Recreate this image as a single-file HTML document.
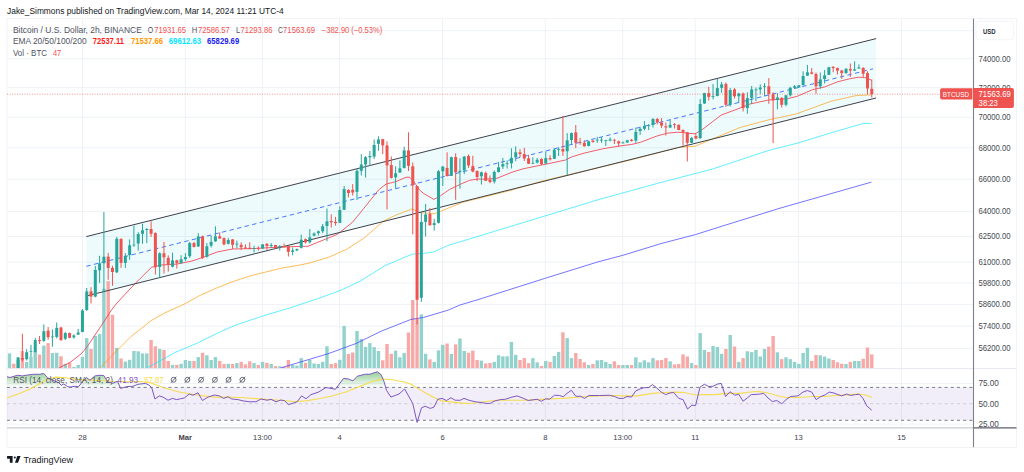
<!DOCTYPE html><html><head><meta charset="utf-8"><style>html,body{margin:0;padding:0;background:#fff;overflow:hidden}svg{display:block}text{font-family:"Liberation Sans",sans-serif}</style></head><body>
<svg width="1024" height="472" viewBox="0 0 1024 472">
<rect width="1024" height="472" fill="#fff"/>
<defs><clipPath id="mp"><rect x="7" y="19" width="966.5" height="349.4"/></clipPath><clipPath id="rp"><rect x="7" y="369" width="966.5" height="58.3"/></clipPath><linearGradient id="ob" gradientUnits="userSpaceOnUse" x1="0" y1="362.8" x2="0" y2="387.4"><stop offset="0" stop-color="#4caf50" stop-opacity="0.95"/><stop offset="1" stop-color="#4caf50" stop-opacity="0"/></linearGradient></defs>
<text x="7.1" y="13.9" font-size="8.9" fill="#131722" font-weight="normal" text-anchor="start" textLength="276.6" lengthAdjust="spacingAndGlyphs">Jake_Simmons published on TradingView.com, Mar 14, 2024 11:21 UTC-4</text>
<rect x="7" y="18.5" width="1009.5" height="429" fill="none" stroke="#eef0f4" stroke-width="0.8"/>
<g clip-path="url(#mp)">
<line x1="7" x2="973.5" y1="30.7" y2="30.7" stroke="#eef2f7" stroke-width="1"/>
<line x1="7" x2="973.5" y1="58.77" y2="58.77" stroke="#eef2f7" stroke-width="1"/>
<line x1="7" x2="973.5" y1="87.61" y2="87.61" stroke="#eef2f7" stroke-width="1"/>
<line x1="7" x2="973.5" y1="117.27" y2="117.27" stroke="#eef2f7" stroke-width="1"/>
<line x1="7" x2="973.5" y1="147.78" y2="147.78" stroke="#eef2f7" stroke-width="1"/>
<line x1="7" x2="973.5" y1="179.2" y2="179.2" stroke="#eef2f7" stroke-width="1"/>
<line x1="7" x2="973.5" y1="211.59" y2="211.59" stroke="#eef2f7" stroke-width="1"/>
<line x1="7" x2="973.5" y1="236.56" y2="236.56" stroke="#eef2f7" stroke-width="1"/>
<line x1="7" x2="973.5" y1="262.13" y2="262.13" stroke="#eef2f7" stroke-width="1"/>
<line x1="7" x2="973.5" y1="283.04" y2="283.04" stroke="#eef2f7" stroke-width="1"/>
<line x1="7" x2="973.5" y1="304.38" y2="304.38" stroke="#eef2f7" stroke-width="1"/>
<line x1="7" x2="973.5" y1="326.16" y2="326.16" stroke="#eef2f7" stroke-width="1"/>
<line x1="7" x2="973.5" y1="348.4" y2="348.4" stroke="#eef2f7" stroke-width="1"/>
<line x1="82.5" x2="82.5" y1="18.5" y2="368.4" stroke="#eef2f7" stroke-width="1"/>
<line x1="185.25" x2="185.25" y1="18.5" y2="368.4" stroke="#eef2f7" stroke-width="1"/>
<line x1="262.5" x2="262.5" y1="18.5" y2="368.4" stroke="#eef2f7" stroke-width="1"/>
<line x1="339.5" x2="339.5" y1="18.5" y2="368.4" stroke="#eef2f7" stroke-width="1"/>
<line x1="442.5" x2="442.5" y1="18.5" y2="368.4" stroke="#eef2f7" stroke-width="1"/>
<line x1="545.25" x2="545.25" y1="18.5" y2="368.4" stroke="#eef2f7" stroke-width="1"/>
<line x1="622.75" x2="622.75" y1="18.5" y2="368.4" stroke="#eef2f7" stroke-width="1"/>
<line x1="695.25" x2="695.25" y1="18.5" y2="368.4" stroke="#eef2f7" stroke-width="1"/>
<line x1="798.5" x2="798.5" y1="18.5" y2="368.4" stroke="#eef2f7" stroke-width="1"/>
<line x1="901.5" x2="901.5" y1="18.5" y2="368.4" stroke="#eef2f7" stroke-width="1"/>
<polygon points="86.3,236.6 876.1,38.6 876.1,98 86.3,296" fill="#00c4cc" fill-opacity="0.066"/>
<rect x="7.82" y="353.4" width="3.4" height="15" fill="#92d2cc"/>
<rect x="12.11" y="363.7" width="3.4" height="4.7" fill="#f7a9a7"/>
<rect x="16.4" y="360" width="3.4" height="8.4" fill="#92d2cc"/>
<rect x="20.69" y="351.1" width="3.4" height="17.3" fill="#f7a9a7"/>
<rect x="24.98" y="361.9" width="3.4" height="6.5" fill="#92d2cc"/>
<rect x="29.27" y="356.7" width="3.4" height="11.7" fill="#92d2cc"/>
<rect x="33.56" y="352" width="3.4" height="16.4" fill="#92d2cc"/>
<rect x="37.85" y="354.5" width="3.4" height="13.9" fill="#f7a9a7"/>
<rect x="42.14" y="345.6" width="3.4" height="22.8" fill="#92d2cc"/>
<rect x="46.43" y="343.1" width="3.4" height="25.3" fill="#f7a9a7"/>
<rect x="50.72" y="353.1" width="3.4" height="15.3" fill="#92d2cc"/>
<rect x="55.01" y="352.8" width="3.4" height="15.6" fill="#92d2cc"/>
<rect x="59.3" y="356.2" width="3.4" height="12.2" fill="#f7a9a7"/>
<rect x="63.59" y="363.8" width="3.4" height="4.6" fill="#92d2cc"/>
<rect x="67.88" y="362.8" width="3.4" height="5.6" fill="#f7a9a7"/>
<rect x="72.17" y="366.9" width="3.4" height="1.5" fill="#92d2cc"/>
<rect x="76.46" y="365" width="3.4" height="3.4" fill="#92d2cc"/>
<rect x="80.75" y="356.9" width="3.4" height="11.5" fill="#92d2cc"/>
<rect x="85.04" y="338.1" width="3.4" height="30.3" fill="#92d2cc"/>
<rect x="89.33" y="349" width="3.4" height="19.4" fill="#f7a9a7"/>
<rect x="93.62" y="336" width="3.4" height="32.4" fill="#92d2cc"/>
<rect x="97.91" y="334.1" width="3.4" height="34.3" fill="#92d2cc"/>
<rect x="102.2" y="288.8" width="3.4" height="79.6" fill="#92d2cc"/>
<rect x="106.49" y="281.2" width="3.4" height="87.2" fill="#f7a9a7"/>
<rect x="110.78" y="314.8" width="3.4" height="53.6" fill="#f7a9a7"/>
<rect x="115.07" y="347.9" width="3.4" height="20.5" fill="#92d2cc"/>
<rect x="119.36" y="358.5" width="3.4" height="9.9" fill="#f7a9a7"/>
<rect x="123.65" y="361.6" width="3.4" height="6.8" fill="#92d2cc"/>
<rect x="127.94" y="359.8" width="3.4" height="8.6" fill="#92d2cc"/>
<rect x="132.23" y="351" width="3.4" height="17.4" fill="#92d2cc"/>
<rect x="136.52" y="351.3" width="3.4" height="17.1" fill="#92d2cc"/>
<rect x="140.81" y="353.4" width="3.4" height="15" fill="#92d2cc"/>
<rect x="145.1" y="353.4" width="3.4" height="15" fill="#92d2cc"/>
<rect x="149.39" y="340" width="3.4" height="28.4" fill="#f7a9a7"/>
<rect x="153.68" y="346.3" width="3.4" height="22.1" fill="#f7a9a7"/>
<rect x="157.97" y="349" width="3.4" height="19.4" fill="#92d2cc"/>
<rect x="162.26" y="350" width="3.4" height="18.4" fill="#f7a9a7"/>
<rect x="166.55" y="361" width="3.4" height="7.4" fill="#f7a9a7"/>
<rect x="170.84" y="364.8" width="3.4" height="3.6" fill="#92d2cc"/>
<rect x="175.13" y="364.8" width="3.4" height="3.6" fill="#f7a9a7"/>
<rect x="179.42" y="363.8" width="3.4" height="4.6" fill="#92d2cc"/>
<rect x="183.71" y="360" width="3.4" height="8.4" fill="#92d2cc"/>
<rect x="188" y="361" width="3.4" height="7.4" fill="#92d2cc"/>
<rect x="192.28" y="361" width="3.4" height="7.4" fill="#f7a9a7"/>
<rect x="196.57" y="357.1" width="3.4" height="11.3" fill="#92d2cc"/>
<rect x="200.86" y="352.8" width="3.4" height="15.6" fill="#f7a9a7"/>
<rect x="205.15" y="355.3" width="3.4" height="13.1" fill="#92d2cc"/>
<rect x="209.44" y="360" width="3.4" height="8.4" fill="#92d2cc"/>
<rect x="213.73" y="357.1" width="3.4" height="11.3" fill="#92d2cc"/>
<rect x="218.02" y="361" width="3.4" height="7.4" fill="#f7a9a7"/>
<rect x="222.31" y="364" width="3.4" height="4.4" fill="#f7a9a7"/>
<rect x="226.6" y="363.8" width="3.4" height="4.6" fill="#92d2cc"/>
<rect x="230.89" y="364" width="3.4" height="4.4" fill="#f7a9a7"/>
<rect x="235.18" y="363.1" width="3.4" height="5.3" fill="#92d2cc"/>
<rect x="239.47" y="361.9" width="3.4" height="6.5" fill="#f7a9a7"/>
<rect x="243.76" y="364.4" width="3.4" height="4" fill="#f7a9a7"/>
<rect x="248.05" y="361.3" width="3.4" height="7.1" fill="#f7a9a7"/>
<rect x="252.34" y="363.1" width="3.4" height="5.3" fill="#92d2cc"/>
<rect x="256.63" y="365" width="3.4" height="3.4" fill="#f7a9a7"/>
<rect x="260.92" y="361.9" width="3.4" height="6.5" fill="#92d2cc"/>
<rect x="265.21" y="362.8" width="3.4" height="5.6" fill="#f7a9a7"/>
<rect x="269.5" y="364" width="3.4" height="4.4" fill="#92d2cc"/>
<rect x="273.79" y="366" width="3.4" height="2.4" fill="#f7a9a7"/>
<rect x="278.08" y="366.3" width="3.4" height="2.1" fill="#92d2cc"/>
<rect x="282.37" y="366.9" width="3.4" height="1.5" fill="#f7a9a7"/>
<rect x="286.66" y="360" width="3.4" height="8.4" fill="#f7a9a7"/>
<rect x="290.95" y="365" width="3.4" height="3.4" fill="#92d2cc"/>
<rect x="295.24" y="365.6" width="3.4" height="2.8" fill="#92d2cc"/>
<rect x="299.53" y="358.1" width="3.4" height="10.3" fill="#92d2cc"/>
<rect x="303.82" y="362.8" width="3.4" height="5.6" fill="#f7a9a7"/>
<rect x="308.11" y="360" width="3.4" height="8.4" fill="#92d2cc"/>
<rect x="312.4" y="363.5" width="3.4" height="4.9" fill="#92d2cc"/>
<rect x="316.69" y="364" width="3.4" height="4.4" fill="#92d2cc"/>
<rect x="320.98" y="361.9" width="3.4" height="6.5" fill="#92d2cc"/>
<rect x="325.27" y="346.3" width="3.4" height="22.1" fill="#92d2cc"/>
<rect x="329.56" y="364" width="3.4" height="4.4" fill="#f7a9a7"/>
<rect x="333.85" y="363.1" width="3.4" height="5.3" fill="#f7a9a7"/>
<rect x="338.14" y="359.8" width="3.4" height="8.6" fill="#92d2cc"/>
<rect x="342.43" y="326" width="3.4" height="42.4" fill="#92d2cc"/>
<rect x="346.72" y="354" width="3.4" height="14.4" fill="#f7a9a7"/>
<rect x="351.01" y="352.5" width="3.4" height="15.9" fill="#f7a9a7"/>
<rect x="355.3" y="331" width="3.4" height="37.4" fill="#92d2cc"/>
<rect x="359.59" y="339" width="3.4" height="29.4" fill="#92d2cc"/>
<rect x="363.88" y="346.9" width="3.4" height="21.5" fill="#92d2cc"/>
<rect x="368.17" y="343.1" width="3.4" height="25.3" fill="#92d2cc"/>
<rect x="372.46" y="347.1" width="3.4" height="21.3" fill="#92d2cc"/>
<rect x="376.75" y="351" width="3.4" height="17.4" fill="#92d2cc"/>
<rect x="381.04" y="360.3" width="3.4" height="8.1" fill="#f7a9a7"/>
<rect x="385.33" y="344" width="3.4" height="24.4" fill="#f7a9a7"/>
<rect x="389.62" y="353.8" width="3.4" height="14.6" fill="#f7a9a7"/>
<rect x="393.91" y="350.6" width="3.4" height="17.8" fill="#92d2cc"/>
<rect x="398.2" y="357.3" width="3.4" height="11.1" fill="#92d2cc"/>
<rect x="402.48" y="353.1" width="3.4" height="15.3" fill="#92d2cc"/>
<rect x="406.77" y="332.5" width="3.4" height="35.9" fill="#f7a9a7"/>
<rect x="411.06" y="300" width="3.4" height="68.4" fill="#f7a9a7"/>
<rect x="415.35" y="318.8" width="3.4" height="49.6" fill="#f7a9a7"/>
<rect x="419.64" y="314.4" width="3.4" height="54" fill="#92d2cc"/>
<rect x="423.93" y="353.8" width="3.4" height="14.6" fill="#92d2cc"/>
<rect x="428.22" y="359.4" width="3.4" height="9" fill="#f7a9a7"/>
<rect x="432.51" y="361.9" width="3.4" height="6.5" fill="#92d2cc"/>
<rect x="436.8" y="350.3" width="3.4" height="18.1" fill="#92d2cc"/>
<rect x="441.09" y="344.8" width="3.4" height="23.6" fill="#92d2cc"/>
<rect x="445.38" y="343.5" width="3.4" height="24.9" fill="#f7a9a7"/>
<rect x="449.67" y="354" width="3.4" height="14.4" fill="#92d2cc"/>
<rect x="453.96" y="344.4" width="3.4" height="24" fill="#f7a9a7"/>
<rect x="458.25" y="338.5" width="3.4" height="29.9" fill="#92d2cc"/>
<rect x="462.54" y="351" width="3.4" height="17.4" fill="#92d2cc"/>
<rect x="466.83" y="352.8" width="3.4" height="15.6" fill="#f7a9a7"/>
<rect x="471.12" y="350.6" width="3.4" height="17.8" fill="#f7a9a7"/>
<rect x="475.41" y="360" width="3.4" height="8.4" fill="#f7a9a7"/>
<rect x="479.7" y="360.6" width="3.4" height="7.8" fill="#92d2cc"/>
<rect x="483.99" y="363.5" width="3.4" height="4.9" fill="#f7a9a7"/>
<rect x="488.28" y="362.9" width="3.4" height="5.5" fill="#f7a9a7"/>
<rect x="492.57" y="361.9" width="3.4" height="6.5" fill="#92d2cc"/>
<rect x="496.86" y="355.3" width="3.4" height="13.1" fill="#92d2cc"/>
<rect x="501.15" y="356.3" width="3.4" height="12.1" fill="#92d2cc"/>
<rect x="505.44" y="356.3" width="3.4" height="12.1" fill="#92d2cc"/>
<rect x="509.73" y="341.9" width="3.4" height="26.5" fill="#92d2cc"/>
<rect x="514.02" y="354.8" width="3.4" height="13.6" fill="#92d2cc"/>
<rect x="518.31" y="360" width="3.4" height="8.4" fill="#f7a9a7"/>
<rect x="522.6" y="358.1" width="3.4" height="10.3" fill="#f7a9a7"/>
<rect x="526.89" y="363.1" width="3.4" height="5.3" fill="#f7a9a7"/>
<rect x="531.18" y="358.1" width="3.4" height="10.3" fill="#92d2cc"/>
<rect x="535.47" y="362.3" width="3.4" height="6.1" fill="#92d2cc"/>
<rect x="539.76" y="366" width="3.4" height="2.4" fill="#f7a9a7"/>
<rect x="544.05" y="361" width="3.4" height="7.4" fill="#92d2cc"/>
<rect x="548.34" y="361.9" width="3.4" height="6.5" fill="#f7a9a7"/>
<rect x="552.63" y="356" width="3.4" height="12.4" fill="#92d2cc"/>
<rect x="556.92" y="351.9" width="3.4" height="16.5" fill="#92d2cc"/>
<rect x="561.21" y="332.3" width="3.4" height="36.1" fill="#f7a9a7"/>
<rect x="565.5" y="338.1" width="3.4" height="30.3" fill="#92d2cc"/>
<rect x="569.79" y="358.1" width="3.4" height="10.3" fill="#92d2cc"/>
<rect x="574.08" y="353.1" width="3.4" height="15.3" fill="#f7a9a7"/>
<rect x="578.37" y="359" width="3.4" height="9.4" fill="#f7a9a7"/>
<rect x="582.66" y="362.3" width="3.4" height="6.1" fill="#f7a9a7"/>
<rect x="586.95" y="365" width="3.4" height="3.4" fill="#92d2cc"/>
<rect x="591.24" y="364" width="3.4" height="4.4" fill="#f7a9a7"/>
<rect x="595.53" y="360.3" width="3.4" height="8.1" fill="#92d2cc"/>
<rect x="599.82" y="360" width="3.4" height="8.4" fill="#92d2cc"/>
<rect x="604.11" y="361.9" width="3.4" height="6.5" fill="#92d2cc"/>
<rect x="608.4" y="364" width="3.4" height="4.4" fill="#92d2cc"/>
<rect x="612.69" y="361.3" width="3.4" height="7.1" fill="#f7a9a7"/>
<rect x="616.97" y="365" width="3.4" height="3.4" fill="#f7a9a7"/>
<rect x="621.26" y="365" width="3.4" height="3.4" fill="#92d2cc"/>
<rect x="625.55" y="365" width="3.4" height="3.4" fill="#92d2cc"/>
<rect x="629.84" y="365" width="3.4" height="3.4" fill="#f7a9a7"/>
<rect x="634.13" y="357.3" width="3.4" height="11.1" fill="#92d2cc"/>
<rect x="638.42" y="362.3" width="3.4" height="6.1" fill="#92d2cc"/>
<rect x="642.71" y="360.3" width="3.4" height="8.1" fill="#92d2cc"/>
<rect x="647" y="362.3" width="3.4" height="6.1" fill="#92d2cc"/>
<rect x="651.29" y="358.1" width="3.4" height="10.3" fill="#92d2cc"/>
<rect x="655.58" y="360.3" width="3.4" height="8.1" fill="#f7a9a7"/>
<rect x="659.87" y="360" width="3.4" height="8.4" fill="#f7a9a7"/>
<rect x="664.16" y="358.1" width="3.4" height="10.3" fill="#f7a9a7"/>
<rect x="668.45" y="361.3" width="3.4" height="7.1" fill="#92d2cc"/>
<rect x="672.74" y="364.4" width="3.4" height="4" fill="#f7a9a7"/>
<rect x="677.03" y="364" width="3.4" height="4.4" fill="#f7a9a7"/>
<rect x="681.32" y="354.4" width="3.4" height="14" fill="#f7a9a7"/>
<rect x="685.61" y="356.5" width="3.4" height="11.9" fill="#f7a9a7"/>
<rect x="689.9" y="363.1" width="3.4" height="5.3" fill="#92d2cc"/>
<rect x="694.19" y="365" width="3.4" height="3.4" fill="#f7a9a7"/>
<rect x="698.48" y="333.1" width="3.4" height="35.3" fill="#92d2cc"/>
<rect x="702.77" y="350" width="3.4" height="18.4" fill="#92d2cc"/>
<rect x="707.06" y="351.9" width="3.4" height="16.5" fill="#f7a9a7"/>
<rect x="711.35" y="346" width="3.4" height="22.4" fill="#92d2cc"/>
<rect x="715.64" y="347" width="3.4" height="21.4" fill="#92d2cc"/>
<rect x="719.93" y="353.8" width="3.4" height="14.6" fill="#92d2cc"/>
<rect x="724.22" y="349" width="3.4" height="19.4" fill="#f7a9a7"/>
<rect x="728.51" y="335" width="3.4" height="33.4" fill="#92d2cc"/>
<rect x="732.8" y="346.5" width="3.4" height="21.9" fill="#f7a9a7"/>
<rect x="737.09" y="361.9" width="3.4" height="6.5" fill="#92d2cc"/>
<rect x="741.38" y="358.1" width="3.4" height="10.3" fill="#f7a9a7"/>
<rect x="745.67" y="351.3" width="3.4" height="17.1" fill="#92d2cc"/>
<rect x="749.96" y="352.1" width="3.4" height="16.3" fill="#92d2cc"/>
<rect x="754.25" y="350" width="3.4" height="18.4" fill="#92d2cc"/>
<rect x="758.54" y="356.5" width="3.4" height="11.9" fill="#92d2cc"/>
<rect x="762.83" y="349" width="3.4" height="19.4" fill="#92d2cc"/>
<rect x="767.12" y="346.6" width="3.4" height="21.8" fill="#f7a9a7"/>
<rect x="771.41" y="336" width="3.4" height="32.4" fill="#f7a9a7"/>
<rect x="775.7" y="352.3" width="3.4" height="16.1" fill="#92d2cc"/>
<rect x="779.99" y="359.1" width="3.4" height="9.3" fill="#f7a9a7"/>
<rect x="784.28" y="357.3" width="3.4" height="11.1" fill="#92d2cc"/>
<rect x="788.57" y="359.1" width="3.4" height="9.3" fill="#92d2cc"/>
<rect x="792.86" y="361.9" width="3.4" height="6.5" fill="#92d2cc"/>
<rect x="797.15" y="363.8" width="3.4" height="4.6" fill="#92d2cc"/>
<rect x="801.44" y="352.9" width="3.4" height="15.5" fill="#92d2cc"/>
<rect x="805.73" y="347.8" width="3.4" height="20.6" fill="#92d2cc"/>
<rect x="810.02" y="361" width="3.4" height="7.4" fill="#f7a9a7"/>
<rect x="814.31" y="355" width="3.4" height="13.4" fill="#f7a9a7"/>
<rect x="818.6" y="355.3" width="3.4" height="13.1" fill="#92d2cc"/>
<rect x="822.89" y="356.5" width="3.4" height="11.9" fill="#92d2cc"/>
<rect x="827.18" y="358.5" width="3.4" height="9.9" fill="#92d2cc"/>
<rect x="831.46" y="360" width="3.4" height="8.4" fill="#f7a9a7"/>
<rect x="835.75" y="362.3" width="3.4" height="6.1" fill="#f7a9a7"/>
<rect x="840.04" y="363.8" width="3.4" height="4.6" fill="#f7a9a7"/>
<rect x="844.33" y="364" width="3.4" height="4.4" fill="#92d2cc"/>
<rect x="848.62" y="361.9" width="3.4" height="6.5" fill="#f7a9a7"/>
<rect x="852.91" y="361" width="3.4" height="7.4" fill="#92d2cc"/>
<rect x="857.2" y="361" width="3.4" height="7.4" fill="#92d2cc"/>
<rect x="861.49" y="358.8" width="3.4" height="9.6" fill="#f7a9a7"/>
<rect x="865.78" y="347.5" width="3.4" height="20.9" fill="#f7a9a7"/>
<rect x="870.07" y="354.4" width="3.4" height="14" fill="#f7a9a7"/>
<polyline points="280.5,368 328,353.75 356,343.5 381,331.25 411,319.4 423.5,317.5 436,313.75 448.5,310 460,305 480,299 544.5,278.5 597.2,262.1 623.6,255.1 661.7,243.4 695.4,234.6 723.2,225.8 780,208.2 871.5,182.1" fill="none" stroke="#3a3aff" stroke-width="1" stroke-opacity="0.7"/>
<polyline points="146.9,368 175,352.5 197.5,343 216.25,333.75 235,325.3 263.1,315.9 291.25,307.5 319.4,298.1 340,290.6 360,281.25 385,265.6 412.5,254 422.5,253.5 433.75,251.9 447.5,245.6 466,240 480,235.75 544.5,216.1 597.2,200 656,183.75 712.5,169 768,150.6 798,143 830.5,133 863,123.5 871.5,123.4" fill="none" stroke="#00e5ff" stroke-width="1" stroke-opacity="0.62"/>
<polyline points="100,368 115,352.5 131.25,336.25 140,329.5 151,320.7 163.5,313.6 185.5,303.5 199.6,295.6 215.2,288.6 230.9,282.3 249.7,276 265.4,272.1 281,268.2 300,265 310,262.9 328.75,257.25 347.25,249 364.75,237.5 383.5,221 396,215 411,209.4 412,208.75 419.5,212.5 434.5,213.75 440.75,211.25 462,202.5 512,190 540,181.6 580,172 630.5,160 640,157.5 677.5,147.5 695,146.25 710,140 740,127.5 768,120 796,114 831,101.25 856,95.6 871.5,94.8" fill="none" stroke="#ff9800" stroke-width="1" stroke-opacity="0.65"/>
<polyline points="58.75,368 70,362.5 81.25,353.75 87.5,346.25 95,335 102.5,323.75 111.5,310 116.5,303.5 134,284.75 151.5,267.25 161.5,265 176.5,264.1 192,261 202.5,257.5 217.5,251.9 232.5,249 255,248.5 282.5,246.9 308,246.25 337.25,234.4 352.25,222.5 363.5,208.75 378.5,190 386,184.1 396,181.6 406,177.25 409.75,177.25 413.5,181 419.5,190 424,193.75 433.9,199.4 440.75,195.6 449.5,189.5 462,183.5 469.5,180.4 477,179.1 487,179.1 497,178.25 512,172.25 522,169.1 528,167.75 546.75,164 565.5,160 571.75,156.9 584.25,153.1 603,148.75 618,146.25 631.75,144.4 640.5,142.3 656.25,136.25 667.5,133.1 677.5,132.25 682.5,132.5 690,133.5 695,133.75 702.5,129.4 721.25,115 740,108.1 750,104 768.5,100 787.25,98.75 797.25,96.25 812.25,89.75 824.75,86.9 837.25,81.9 849.75,78.75 858.5,77.25 864.75,77.5 871.5,80.2" fill="none" stroke="#f23645" stroke-width="1" stroke-opacity="0.8"/>
<line x1="86.3" y1="236.6" x2="876.1" y2="38.6" stroke="#3d414c" stroke-width="1"/>
<line x1="86.3" y1="296" x2="876.1" y2="98" stroke="#3d414c" stroke-width="1"/>
<line x1="86.3" y1="266.3" x2="873" y2="68.8" stroke="#2962ff" stroke-opacity="0.85" stroke-width="1" stroke-dasharray="4.4 3.37"/>
<line x1="18.1" x2="18.1" y1="357.4" y2="368.5" stroke="#26a69a" stroke-width="1"/>
<rect x="16.6" y="357.4" width="3" height="11.1" fill="#26a69a"/>
<line x1="22.39" x2="22.39" y1="333.8" y2="361.5" stroke="#ef5350" stroke-width="1"/>
<rect x="20.89" y="358" width="3" height="1.6" fill="#ef5350"/>
<line x1="26.68" x2="26.68" y1="349.2" y2="360.5" stroke="#26a69a" stroke-width="1"/>
<rect x="25.18" y="352.2" width="3" height="7" fill="#26a69a"/>
<line x1="30.97" x2="30.97" y1="344.8" y2="356.7" stroke="#26a69a" stroke-width="1"/>
<rect x="29.47" y="350.9" width="3" height="0.8" fill="#26a69a"/>
<line x1="35.26" x2="35.26" y1="337.8" y2="352.5" stroke="#26a69a" stroke-width="1"/>
<rect x="33.76" y="340.1" width="3" height="11.9" fill="#26a69a"/>
<line x1="39.55" x2="39.55" y1="336" y2="344" stroke="#ef5350" stroke-width="1"/>
<rect x="38.05" y="340" width="3" height="1.1" fill="#ef5350"/>
<line x1="43.84" x2="43.84" y1="324.4" y2="341.9" stroke="#26a69a" stroke-width="1"/>
<rect x="42.34" y="331.2" width="3" height="9.6" fill="#26a69a"/>
<line x1="48.13" x2="48.13" y1="327" y2="339.7" stroke="#ef5350" stroke-width="1"/>
<rect x="46.63" y="330.6" width="3" height="6.6" fill="#ef5350"/>
<line x1="52.42" x2="52.42" y1="329.4" y2="346.8" stroke="#26a69a" stroke-width="1"/>
<rect x="50.92" y="336.5" width="3" height="0.8" fill="#26a69a"/>
<line x1="56.71" x2="56.71" y1="322.5" y2="338.4" stroke="#26a69a" stroke-width="1"/>
<rect x="55.21" y="327.9" width="3" height="9" fill="#26a69a"/>
<line x1="61" x2="61" y1="326.9" y2="340.6" stroke="#ef5350" stroke-width="1"/>
<rect x="59.5" y="327.5" width="3" height="12.7" fill="#ef5350"/>
<line x1="65.29" x2="65.29" y1="331.9" y2="340" stroke="#26a69a" stroke-width="1"/>
<rect x="63.79" y="333.1" width="3" height="5.7" fill="#26a69a"/>
<line x1="69.58" x2="69.58" y1="332.5" y2="338.2" stroke="#ef5350" stroke-width="1"/>
<rect x="68.08" y="333.1" width="3" height="4.7" fill="#ef5350"/>
<line x1="73.87" x2="73.87" y1="334.4" y2="338.8" stroke="#26a69a" stroke-width="1"/>
<rect x="72.37" y="335.4" width="3" height="1.9" fill="#26a69a"/>
<line x1="78.16" x2="78.16" y1="328.8" y2="335" stroke="#26a69a" stroke-width="1"/>
<rect x="76.66" y="332.5" width="3" height="2.1" fill="#26a69a"/>
<line x1="82.45" x2="82.45" y1="309" y2="332.3" stroke="#26a69a" stroke-width="1"/>
<rect x="80.95" y="310.5" width="3" height="21.4" fill="#26a69a"/>
<line x1="86.74" x2="86.74" y1="288" y2="311" stroke="#26a69a" stroke-width="1"/>
<rect x="85.24" y="291.4" width="3" height="18.6" fill="#26a69a"/>
<line x1="91.03" x2="91.03" y1="287.3" y2="303.5" stroke="#ef5350" stroke-width="1"/>
<rect x="89.53" y="291.3" width="3" height="5.3" fill="#ef5350"/>
<line x1="95.32" x2="95.32" y1="266" y2="297.3" stroke="#26a69a" stroke-width="1"/>
<rect x="93.82" y="270" width="3" height="26.6" fill="#26a69a"/>
<line x1="99.61" x2="99.61" y1="255.8" y2="282.9" stroke="#26a69a" stroke-width="1"/>
<rect x="98.11" y="263.3" width="3" height="7.1" fill="#26a69a"/>
<line x1="103.9" x2="103.9" y1="211.9" y2="292" stroke="#26a69a" stroke-width="1"/>
<rect x="102.4" y="256.7" width="3" height="6.6" fill="#26a69a"/>
<line x1="108.19" x2="108.19" y1="252.9" y2="279.8" stroke="#ef5350" stroke-width="1"/>
<rect x="106.69" y="256.6" width="3" height="11.3" fill="#ef5350"/>
<line x1="112.48" x2="112.48" y1="265.8" y2="285.8" stroke="#ef5350" stroke-width="1"/>
<rect x="110.98" y="267.9" width="3" height="4.1" fill="#ef5350"/>
<line x1="116.77" x2="116.77" y1="236.9" y2="273" stroke="#26a69a" stroke-width="1"/>
<rect x="115.27" y="238.8" width="3" height="33.5" fill="#26a69a"/>
<line x1="121.06" x2="121.06" y1="238.5" y2="267.9" stroke="#ef5350" stroke-width="1"/>
<rect x="119.56" y="238.8" width="3" height="24.1" fill="#ef5350"/>
<line x1="125.35" x2="125.35" y1="253.1" y2="267.9" stroke="#26a69a" stroke-width="1"/>
<rect x="123.85" y="255.8" width="3" height="7.1" fill="#26a69a"/>
<line x1="129.64" x2="129.64" y1="239.4" y2="259.8" stroke="#26a69a" stroke-width="1"/>
<rect x="128.14" y="245.3" width="3" height="9.7" fill="#26a69a"/>
<line x1="133.93" x2="133.93" y1="225.6" y2="246.9" stroke="#26a69a" stroke-width="1"/>
<rect x="132.43" y="244.6" width="3" height="0.8" fill="#26a69a"/>
<line x1="138.22" x2="138.22" y1="232.3" y2="250.6" stroke="#26a69a" stroke-width="1"/>
<rect x="136.72" y="234" width="3" height="9.5" fill="#26a69a"/>
<line x1="142.51" x2="142.51" y1="223.8" y2="243.8" stroke="#26a69a" stroke-width="1"/>
<rect x="141.01" y="230.3" width="3" height="3.5" fill="#26a69a"/>
<line x1="146.8" x2="146.8" y1="228.1" y2="243.1" stroke="#26a69a" stroke-width="1"/>
<rect x="145.3" y="229" width="3" height="1" fill="#26a69a"/>
<line x1="151.09" x2="151.09" y1="221.3" y2="236.9" stroke="#ef5350" stroke-width="1"/>
<rect x="149.59" y="229" width="3" height="4.8" fill="#ef5350"/>
<line x1="155.38" x2="155.38" y1="232.3" y2="274.5" stroke="#ef5350" stroke-width="1"/>
<rect x="153.88" y="233.1" width="3" height="34.2" fill="#ef5350"/>
<line x1="159.67" x2="159.67" y1="252.3" y2="277.9" stroke="#26a69a" stroke-width="1"/>
<rect x="158.17" y="253.3" width="3" height="13.7" fill="#26a69a"/>
<line x1="163.96" x2="163.96" y1="241.9" y2="273.5" stroke="#ef5350" stroke-width="1"/>
<rect x="162.46" y="253.3" width="3" height="4" fill="#ef5350"/>
<line x1="168.25" x2="168.25" y1="255.4" y2="271.6" stroke="#ef5350" stroke-width="1"/>
<rect x="166.75" y="257.9" width="3" height="7.1" fill="#ef5350"/>
<line x1="172.54" x2="172.54" y1="252.7" y2="267.3" stroke="#26a69a" stroke-width="1"/>
<rect x="171.04" y="260.4" width="3" height="6.2" fill="#26a69a"/>
<line x1="176.83" x2="176.83" y1="259.8" y2="268.5" stroke="#ef5350" stroke-width="1"/>
<rect x="175.33" y="260.4" width="3" height="2.5" fill="#ef5350"/>
<line x1="181.12" x2="181.12" y1="255.2" y2="263.5" stroke="#26a69a" stroke-width="1"/>
<rect x="179.62" y="259.3" width="3" height="3.9" fill="#26a69a"/>
<line x1="185.41" x2="185.41" y1="253.2" y2="261.1" stroke="#26a69a" stroke-width="1"/>
<rect x="183.91" y="257" width="3" height="2.2" fill="#26a69a"/>
<line x1="189.69" x2="189.69" y1="241.9" y2="257.8" stroke="#26a69a" stroke-width="1"/>
<rect x="188.19" y="243.1" width="3" height="13.1" fill="#26a69a"/>
<line x1="193.98" x2="193.98" y1="241.9" y2="247.5" stroke="#ef5350" stroke-width="1"/>
<rect x="192.48" y="243.1" width="3" height="3.8" fill="#ef5350"/>
<line x1="198.27" x2="198.27" y1="233.1" y2="246.9" stroke="#26a69a" stroke-width="1"/>
<rect x="196.77" y="236.5" width="3" height="10" fill="#26a69a"/>
<line x1="202.56" x2="202.56" y1="235.6" y2="258.8" stroke="#ef5350" stroke-width="1"/>
<rect x="201.06" y="236.3" width="3" height="21.8" fill="#ef5350"/>
<line x1="206.85" x2="206.85" y1="243.1" y2="257.5" stroke="#26a69a" stroke-width="1"/>
<rect x="205.35" y="246.3" width="3" height="10.6" fill="#26a69a"/>
<line x1="211.14" x2="211.14" y1="235.6" y2="247.5" stroke="#26a69a" stroke-width="1"/>
<rect x="209.64" y="241.9" width="3" height="3.7" fill="#26a69a"/>
<line x1="215.43" x2="215.43" y1="226.3" y2="241.9" stroke="#26a69a" stroke-width="1"/>
<rect x="213.93" y="236.3" width="3" height="5" fill="#26a69a"/>
<line x1="219.72" x2="219.72" y1="232.3" y2="239" stroke="#ef5350" stroke-width="1"/>
<rect x="218.22" y="236.3" width="3" height="2.2" fill="#ef5350"/>
<line x1="224.01" x2="224.01" y1="237.5" y2="245.3" stroke="#ef5350" stroke-width="1"/>
<rect x="222.51" y="238.1" width="3" height="6.3" fill="#ef5350"/>
<line x1="228.3" x2="228.3" y1="238.1" y2="244.4" stroke="#26a69a" stroke-width="1"/>
<rect x="226.8" y="240" width="3" height="3.8" fill="#26a69a"/>
<line x1="232.59" x2="232.59" y1="239" y2="249" stroke="#ef5350" stroke-width="1"/>
<rect x="231.09" y="239.4" width="3" height="5.4" fill="#ef5350"/>
<line x1="236.88" x2="236.88" y1="240.6" y2="248.1" stroke="#26a69a" stroke-width="1"/>
<rect x="235.38" y="243.7" width="3" height="0.8" fill="#26a69a"/>
<line x1="241.17" x2="241.17" y1="242.3" y2="250" stroke="#ef5350" stroke-width="1"/>
<rect x="239.67" y="244.8" width="3" height="2.5" fill="#ef5350"/>
<line x1="245.46" x2="245.46" y1="244.4" y2="248.8" stroke="#ef5350" stroke-width="1"/>
<rect x="243.96" y="247.5" width="3" height="1" fill="#ef5350"/>
<line x1="249.75" x2="249.75" y1="242.3" y2="249.4" stroke="#ef5350" stroke-width="1"/>
<rect x="248.25" y="247.8" width="3" height="1.2" fill="#ef5350"/>
<line x1="254.04" x2="254.04" y1="245.6" y2="252.5" stroke="#26a69a" stroke-width="1"/>
<rect x="252.54" y="248.2" width="3" height="0.8" fill="#26a69a"/>
<line x1="258.33" x2="258.33" y1="246.3" y2="250.6" stroke="#ef5350" stroke-width="1"/>
<rect x="256.83" y="247.8" width="3" height="0.8" fill="#ef5350"/>
<line x1="262.62" x2="262.62" y1="244" y2="249" stroke="#26a69a" stroke-width="1"/>
<rect x="261.12" y="244.4" width="3" height="4.1" fill="#26a69a"/>
<line x1="266.91" x2="266.91" y1="243.1" y2="249.8" stroke="#ef5350" stroke-width="1"/>
<rect x="265.41" y="243.8" width="3" height="2.2" fill="#ef5350"/>
<line x1="271.2" x2="271.2" y1="243.1" y2="248.1" stroke="#26a69a" stroke-width="1"/>
<rect x="269.7" y="245" width="3" height="1" fill="#26a69a"/>
<line x1="275.49" x2="275.49" y1="244.8" y2="248.4" stroke="#ef5350" stroke-width="1"/>
<rect x="273.99" y="245" width="3" height="3.1" fill="#ef5350"/>
<line x1="279.78" x2="279.78" y1="245" y2="250.6" stroke="#26a69a" stroke-width="1"/>
<rect x="278.28" y="246.3" width="3" height="1" fill="#26a69a"/>
<line x1="284.07" x2="284.07" y1="243.5" y2="247.5" stroke="#ef5350" stroke-width="1"/>
<rect x="282.57" y="246" width="3" height="1.3" fill="#ef5350"/>
<line x1="288.36" x2="288.36" y1="246.3" y2="256.5" stroke="#ef5350" stroke-width="1"/>
<rect x="286.86" y="246.5" width="3" height="5.4" fill="#ef5350"/>
<line x1="292.65" x2="292.65" y1="247.5" y2="255.3" stroke="#26a69a" stroke-width="1"/>
<rect x="291.15" y="250.3" width="3" height="1.6" fill="#26a69a"/>
<line x1="296.94" x2="296.94" y1="248.5" y2="251.3" stroke="#26a69a" stroke-width="1"/>
<rect x="295.44" y="249" width="3" height="1.3" fill="#26a69a"/>
<line x1="301.23" x2="301.23" y1="234.6" y2="248.5" stroke="#26a69a" stroke-width="1"/>
<rect x="299.73" y="239.8" width="3" height="8" fill="#26a69a"/>
<line x1="305.52" x2="305.52" y1="238.5" y2="243.5" stroke="#ef5350" stroke-width="1"/>
<rect x="304.02" y="239.2" width="3" height="3.1" fill="#ef5350"/>
<line x1="309.81" x2="309.81" y1="229" y2="243.5" stroke="#26a69a" stroke-width="1"/>
<rect x="308.31" y="237.3" width="3" height="5" fill="#26a69a"/>
<line x1="314.1" x2="314.1" y1="232.5" y2="236.3" stroke="#26a69a" stroke-width="1"/>
<rect x="312.6" y="233.5" width="3" height="2.1" fill="#26a69a"/>
<line x1="318.39" x2="318.39" y1="230.6" y2="235.6" stroke="#26a69a" stroke-width="1"/>
<rect x="316.89" y="231.3" width="3" height="1.8" fill="#26a69a"/>
<line x1="322.68" x2="322.68" y1="224" y2="233.1" stroke="#26a69a" stroke-width="1"/>
<rect x="321.18" y="226.3" width="3" height="5" fill="#26a69a"/>
<line x1="326.97" x2="326.97" y1="208.5" y2="241.3" stroke="#26a69a" stroke-width="1"/>
<rect x="325.47" y="221.3" width="3" height="4.7" fill="#26a69a"/>
<line x1="331.26" x2="331.26" y1="214.4" y2="227.5" stroke="#ef5350" stroke-width="1"/>
<rect x="329.76" y="221" width="3" height="1.3" fill="#ef5350"/>
<line x1="335.55" x2="335.55" y1="216.9" y2="225.6" stroke="#ef5350" stroke-width="1"/>
<rect x="334.05" y="221.9" width="3" height="1.2" fill="#ef5350"/>
<line x1="339.84" x2="339.84" y1="206.3" y2="223.1" stroke="#26a69a" stroke-width="1"/>
<rect x="338.34" y="210" width="3" height="12.8" fill="#26a69a"/>
<line x1="344.13" x2="344.13" y1="186" y2="210" stroke="#26a69a" stroke-width="1"/>
<rect x="342.63" y="189.1" width="3" height="20.7" fill="#26a69a"/>
<line x1="348.42" x2="348.42" y1="189.1" y2="197.5" stroke="#ef5350" stroke-width="1"/>
<rect x="346.92" y="190" width="3" height="3" fill="#ef5350"/>
<line x1="352.71" x2="352.71" y1="184.1" y2="195.6" stroke="#ef5350" stroke-width="1"/>
<rect x="351.21" y="189.8" width="3" height="2.7" fill="#ef5350"/>
<line x1="357" x2="357" y1="168.5" y2="200" stroke="#26a69a" stroke-width="1"/>
<rect x="355.5" y="170.8" width="3" height="21.1" fill="#26a69a"/>
<line x1="361.29" x2="361.29" y1="154.1" y2="175.4" stroke="#26a69a" stroke-width="1"/>
<rect x="359.79" y="164.5" width="3" height="6.3" fill="#26a69a"/>
<line x1="365.58" x2="365.58" y1="156" y2="177.5" stroke="#26a69a" stroke-width="1"/>
<rect x="364.08" y="157.3" width="3" height="7.2" fill="#26a69a"/>
<line x1="369.87" x2="369.87" y1="151" y2="166" stroke="#26a69a" stroke-width="1"/>
<rect x="368.37" y="156" width="3" height="1.3" fill="#26a69a"/>
<line x1="374.16" x2="374.16" y1="139.5" y2="159.1" stroke="#26a69a" stroke-width="1"/>
<rect x="372.66" y="145" width="3" height="11.6" fill="#26a69a"/>
<line x1="378.45" x2="378.45" y1="136.3" y2="150.8" stroke="#26a69a" stroke-width="1"/>
<rect x="376.95" y="139.5" width="3" height="4.3" fill="#26a69a"/>
<line x1="382.74" x2="382.74" y1="139.1" y2="154.1" stroke="#ef5350" stroke-width="1"/>
<rect x="381.24" y="139.1" width="3" height="6.3" fill="#ef5350"/>
<line x1="387.03" x2="387.03" y1="141.3" y2="209.4" stroke="#ef5350" stroke-width="1"/>
<rect x="385.53" y="145.4" width="3" height="20" fill="#ef5350"/>
<line x1="391.32" x2="391.32" y1="156.6" y2="178.5" stroke="#ef5350" stroke-width="1"/>
<rect x="389.82" y="165" width="3" height="12.9" fill="#ef5350"/>
<line x1="395.61" x2="395.61" y1="166.3" y2="188.5" stroke="#26a69a" stroke-width="1"/>
<rect x="394.11" y="173.3" width="3" height="4" fill="#26a69a"/>
<line x1="399.9" x2="399.9" y1="160.4" y2="172.9" stroke="#26a69a" stroke-width="1"/>
<rect x="398.4" y="168.3" width="3" height="4.2" fill="#26a69a"/>
<line x1="404.18" x2="404.18" y1="146.6" y2="168.5" stroke="#26a69a" stroke-width="1"/>
<rect x="402.68" y="150.4" width="3" height="17.5" fill="#26a69a"/>
<line x1="408.47" x2="408.47" y1="132.3" y2="171" stroke="#ef5350" stroke-width="1"/>
<rect x="406.97" y="150.4" width="3" height="15.4" fill="#ef5350"/>
<line x1="412.76" x2="412.76" y1="162.5" y2="234.4" stroke="#ef5350" stroke-width="1"/>
<rect x="411.26" y="166.3" width="3" height="19.1" fill="#ef5350"/>
<line x1="417.05" x2="417.05" y1="186" y2="324.4" stroke="#ef5350" stroke-width="1"/>
<rect x="415.55" y="186" width="3" height="113.8" fill="#ef5350"/>
<line x1="421.34" x2="421.34" y1="211.9" y2="301.9" stroke="#26a69a" stroke-width="1"/>
<rect x="419.84" y="222" width="3" height="75.8" fill="#26a69a"/>
<line x1="425.63" x2="425.63" y1="204" y2="236.5" stroke="#26a69a" stroke-width="1"/>
<rect x="424.13" y="214.4" width="3" height="7.5" fill="#26a69a"/>
<line x1="429.92" x2="429.92" y1="208.1" y2="225.6" stroke="#ef5350" stroke-width="1"/>
<rect x="428.42" y="214" width="3" height="11.3" fill="#ef5350"/>
<line x1="434.21" x2="434.21" y1="218.8" y2="230.6" stroke="#26a69a" stroke-width="1"/>
<rect x="432.71" y="223.1" width="3" height="1.9" fill="#26a69a"/>
<line x1="438.5" x2="438.5" y1="170" y2="223.5" stroke="#26a69a" stroke-width="1"/>
<rect x="437" y="171.3" width="3" height="51.5" fill="#26a69a"/>
<line x1="442.79" x2="442.79" y1="166" y2="186" stroke="#26a69a" stroke-width="1"/>
<rect x="441.29" y="166.6" width="3" height="4.7" fill="#26a69a"/>
<line x1="447.08" x2="447.08" y1="152.3" y2="176.6" stroke="#ef5350" stroke-width="1"/>
<rect x="445.58" y="167.9" width="3" height="8.1" fill="#ef5350"/>
<line x1="451.37" x2="451.37" y1="156.6" y2="176" stroke="#26a69a" stroke-width="1"/>
<rect x="449.87" y="157.3" width="3" height="18.5" fill="#26a69a"/>
<line x1="455.66" x2="455.66" y1="153.3" y2="199.8" stroke="#ef5350" stroke-width="1"/>
<rect x="454.16" y="157" width="3" height="15.3" fill="#ef5350"/>
<line x1="459.95" x2="459.95" y1="158.3" y2="188.8" stroke="#26a69a" stroke-width="1"/>
<rect x="458.45" y="170.8" width="3" height="1.2" fill="#26a69a"/>
<line x1="464.24" x2="464.24" y1="156" y2="174.1" stroke="#26a69a" stroke-width="1"/>
<rect x="462.74" y="156.6" width="3" height="13.8" fill="#26a69a"/>
<line x1="468.53" x2="468.53" y1="154.5" y2="167.9" stroke="#ef5350" stroke-width="1"/>
<rect x="467.03" y="156" width="3" height="9.4" fill="#ef5350"/>
<line x1="472.82" x2="472.82" y1="155.8" y2="172.3" stroke="#ef5350" stroke-width="1"/>
<rect x="471.32" y="166" width="3" height="5.6" fill="#ef5350"/>
<line x1="477.11" x2="477.11" y1="170.4" y2="181" stroke="#ef5350" stroke-width="1"/>
<rect x="475.61" y="171" width="3" height="6" fill="#ef5350"/>
<line x1="481.4" x2="481.4" y1="171.6" y2="184.5" stroke="#26a69a" stroke-width="1"/>
<rect x="479.9" y="172.3" width="3" height="4" fill="#26a69a"/>
<line x1="485.69" x2="485.69" y1="171.6" y2="181" stroke="#ef5350" stroke-width="1"/>
<rect x="484.19" y="172.9" width="3" height="7.9" fill="#ef5350"/>
<line x1="489.98" x2="489.98" y1="175.4" y2="183.3" stroke="#ef5350" stroke-width="1"/>
<rect x="488.48" y="179.8" width="3" height="2.2" fill="#ef5350"/>
<line x1="494.27" x2="494.27" y1="170.4" y2="183.5" stroke="#26a69a" stroke-width="1"/>
<rect x="492.77" y="172" width="3" height="9.6" fill="#26a69a"/>
<line x1="498.56" x2="498.56" y1="162" y2="172.5" stroke="#26a69a" stroke-width="1"/>
<rect x="497.06" y="167.3" width="3" height="4.7" fill="#26a69a"/>
<line x1="502.85" x2="502.85" y1="157.9" y2="169.1" stroke="#26a69a" stroke-width="1"/>
<rect x="501.35" y="164.1" width="3" height="2.5" fill="#26a69a"/>
<line x1="507.14" x2="507.14" y1="160.4" y2="168.5" stroke="#26a69a" stroke-width="1"/>
<rect x="505.64" y="163" width="3" height="0.8" fill="#26a69a"/>
<line x1="511.43" x2="511.43" y1="148.3" y2="168.5" stroke="#26a69a" stroke-width="1"/>
<rect x="509.93" y="157.9" width="3" height="5.4" fill="#26a69a"/>
<line x1="515.72" x2="515.72" y1="146.3" y2="161.3" stroke="#26a69a" stroke-width="1"/>
<rect x="514.22" y="152.3" width="3" height="5" fill="#26a69a"/>
<line x1="520.01" x2="520.01" y1="149.1" y2="157.3" stroke="#ef5350" stroke-width="1"/>
<rect x="518.51" y="152.3" width="3" height="1.8" fill="#ef5350"/>
<line x1="524.3" x2="524.3" y1="147.9" y2="161" stroke="#ef5350" stroke-width="1"/>
<rect x="522.8" y="154.1" width="3" height="4.4" fill="#ef5350"/>
<line x1="528.59" x2="528.59" y1="154.8" y2="164.1" stroke="#ef5350" stroke-width="1"/>
<rect x="527.09" y="158.3" width="3" height="5.5" fill="#ef5350"/>
<line x1="532.88" x2="532.88" y1="157.3" y2="164.1" stroke="#26a69a" stroke-width="1"/>
<rect x="531.38" y="162.9" width="3" height="0.8" fill="#26a69a"/>
<line x1="537.17" x2="537.17" y1="157.9" y2="163.5" stroke="#26a69a" stroke-width="1"/>
<rect x="535.67" y="159.8" width="3" height="2.7" fill="#26a69a"/>
<line x1="541.46" x2="541.46" y1="158.1" y2="165" stroke="#ef5350" stroke-width="1"/>
<rect x="539.96" y="159" width="3" height="5" fill="#ef5350"/>
<line x1="545.75" x2="545.75" y1="151.3" y2="163.8" stroke="#26a69a" stroke-width="1"/>
<rect x="544.25" y="158.1" width="3" height="5.4" fill="#26a69a"/>
<line x1="550.04" x2="550.04" y1="155.3" y2="160.6" stroke="#ef5350" stroke-width="1"/>
<rect x="548.54" y="158.1" width="3" height="1.3" fill="#ef5350"/>
<line x1="554.33" x2="554.33" y1="148.8" y2="159" stroke="#26a69a" stroke-width="1"/>
<rect x="552.83" y="149.8" width="3" height="9" fill="#26a69a"/>
<line x1="558.62" x2="558.62" y1="147.3" y2="156" stroke="#26a69a" stroke-width="1"/>
<rect x="557.12" y="149.1" width="3" height="0.8" fill="#26a69a"/>
<line x1="562.91" x2="562.91" y1="116" y2="156" stroke="#ef5350" stroke-width="1"/>
<rect x="561.41" y="149" width="3" height="2.5" fill="#ef5350"/>
<line x1="567.2" x2="567.2" y1="133.1" y2="175" stroke="#26a69a" stroke-width="1"/>
<rect x="565.7" y="140.3" width="3" height="11" fill="#26a69a"/>
<line x1="571.49" x2="571.49" y1="132.5" y2="143.8" stroke="#26a69a" stroke-width="1"/>
<rect x="569.99" y="133.1" width="3" height="6.9" fill="#26a69a"/>
<line x1="575.78" x2="575.78" y1="125" y2="148.1" stroke="#ef5350" stroke-width="1"/>
<rect x="574.28" y="132.3" width="3" height="10.5" fill="#ef5350"/>
<line x1="580.07" x2="580.07" y1="137.8" y2="144.8" stroke="#ef5350" stroke-width="1"/>
<rect x="578.57" y="141.9" width="3" height="0.9" fill="#ef5350"/>
<line x1="584.36" x2="584.36" y1="140.6" y2="146.5" stroke="#ef5350" stroke-width="1"/>
<rect x="582.86" y="142.8" width="3" height="3.5" fill="#ef5350"/>
<line x1="588.65" x2="588.65" y1="140.6" y2="146.3" stroke="#26a69a" stroke-width="1"/>
<rect x="587.15" y="141.3" width="3" height="4.7" fill="#26a69a"/>
<line x1="592.94" x2="592.94" y1="140" y2="142.8" stroke="#ef5350" stroke-width="1"/>
<rect x="591.44" y="140.6" width="3" height="1.3" fill="#ef5350"/>
<line x1="597.23" x2="597.23" y1="136.9" y2="142.8" stroke="#26a69a" stroke-width="1"/>
<rect x="595.73" y="139.7" width="3" height="0.8" fill="#26a69a"/>
<line x1="601.52" x2="601.52" y1="137.3" y2="142.8" stroke="#26a69a" stroke-width="1"/>
<rect x="600.02" y="139.7" width="3" height="0.8" fill="#26a69a"/>
<line x1="605.81" x2="605.81" y1="139.8" y2="146" stroke="#26a69a" stroke-width="1"/>
<rect x="604.31" y="140" width="3" height="0.8" fill="#26a69a"/>
<line x1="610.1" x2="610.1" y1="137.3" y2="141.3" stroke="#26a69a" stroke-width="1"/>
<rect x="608.6" y="139.4" width="3" height="1.2" fill="#26a69a"/>
<line x1="614.39" x2="614.39" y1="138.8" y2="144" stroke="#ef5350" stroke-width="1"/>
<rect x="612.89" y="139.8" width="3" height="0.8" fill="#ef5350"/>
<line x1="618.67" x2="618.67" y1="140.6" y2="146.5" stroke="#ef5350" stroke-width="1"/>
<rect x="617.17" y="141.3" width="3" height="2.2" fill="#ef5350"/>
<line x1="622.96" x2="622.96" y1="141.5" y2="143.5" stroke="#26a69a" stroke-width="1"/>
<rect x="621.46" y="142.5" width="3" height="0.8" fill="#26a69a"/>
<line x1="627.25" x2="627.25" y1="139.8" y2="142.8" stroke="#26a69a" stroke-width="1"/>
<rect x="625.75" y="140.3" width="3" height="2.2" fill="#26a69a"/>
<line x1="631.54" x2="631.54" y1="139" y2="141.5" stroke="#ef5350" stroke-width="1"/>
<rect x="630.04" y="139.8" width="3" height="1.2" fill="#ef5350"/>
<line x1="635.83" x2="635.83" y1="127.5" y2="142.8" stroke="#26a69a" stroke-width="1"/>
<rect x="634.33" y="131.9" width="3" height="8.7" fill="#26a69a"/>
<line x1="640.12" x2="640.12" y1="127.8" y2="134.8" stroke="#26a69a" stroke-width="1"/>
<rect x="638.62" y="128.8" width="3" height="2.2" fill="#26a69a"/>
<line x1="644.41" x2="644.41" y1="121" y2="130.3" stroke="#26a69a" stroke-width="1"/>
<rect x="642.91" y="126" width="3" height="2.8" fill="#26a69a"/>
<line x1="648.7" x2="648.7" y1="124" y2="130" stroke="#26a69a" stroke-width="1"/>
<rect x="647.2" y="125.3" width="3" height="0.8" fill="#26a69a"/>
<line x1="652.99" x2="652.99" y1="118.1" y2="127.5" stroke="#26a69a" stroke-width="1"/>
<rect x="651.49" y="119" width="3" height="5.8" fill="#26a69a"/>
<line x1="657.28" x2="657.28" y1="117.8" y2="124.4" stroke="#ef5350" stroke-width="1"/>
<rect x="655.78" y="119" width="3" height="3.5" fill="#ef5350"/>
<line x1="661.57" x2="661.57" y1="118.1" y2="128.1" stroke="#ef5350" stroke-width="1"/>
<rect x="660.07" y="122.5" width="3" height="3.1" fill="#ef5350"/>
<line x1="665.86" x2="665.86" y1="122.5" y2="135.6" stroke="#ef5350" stroke-width="1"/>
<rect x="664.36" y="126.3" width="3" height="1.2" fill="#ef5350"/>
<line x1="670.15" x2="670.15" y1="119.8" y2="128.1" stroke="#26a69a" stroke-width="1"/>
<rect x="668.65" y="124.8" width="3" height="2.7" fill="#26a69a"/>
<line x1="674.44" x2="674.44" y1="123.1" y2="128.5" stroke="#ef5350" stroke-width="1"/>
<rect x="672.94" y="124.1" width="3" height="0.8" fill="#ef5350"/>
<line x1="678.73" x2="678.73" y1="124.4" y2="130.3" stroke="#ef5350" stroke-width="1"/>
<rect x="677.23" y="124.8" width="3" height="5.2" fill="#ef5350"/>
<line x1="683.02" x2="683.02" y1="129.4" y2="145.6" stroke="#ef5350" stroke-width="1"/>
<rect x="681.52" y="130" width="3" height="1.9" fill="#ef5350"/>
<line x1="687.31" x2="687.31" y1="131.9" y2="161.5" stroke="#ef5350" stroke-width="1"/>
<rect x="685.81" y="132.3" width="3" height="10.5" fill="#ef5350"/>
<line x1="691.6" x2="691.6" y1="136.9" y2="143.1" stroke="#26a69a" stroke-width="1"/>
<rect x="690.1" y="137.8" width="3" height="5" fill="#26a69a"/>
<line x1="695.89" x2="695.89" y1="133.8" y2="139.4" stroke="#ef5350" stroke-width="1"/>
<rect x="694.39" y="136" width="3" height="2.5" fill="#ef5350"/>
<line x1="700.18" x2="700.18" y1="99" y2="139" stroke="#26a69a" stroke-width="1"/>
<rect x="698.68" y="104" width="3" height="34.1" fill="#26a69a"/>
<line x1="704.47" x2="704.47" y1="92.8" y2="103.8" stroke="#26a69a" stroke-width="1"/>
<rect x="702.97" y="93.1" width="3" height="10.4" fill="#26a69a"/>
<line x1="708.76" x2="708.76" y1="86.9" y2="100.6" stroke="#ef5350" stroke-width="1"/>
<rect x="707.26" y="93.1" width="3" height="3.8" fill="#ef5350"/>
<line x1="713.05" x2="713.05" y1="84" y2="99.4" stroke="#26a69a" stroke-width="1"/>
<rect x="711.55" y="96" width="3" height="0.8" fill="#26a69a"/>
<line x1="717.34" x2="717.34" y1="79" y2="96.3" stroke="#26a69a" stroke-width="1"/>
<rect x="715.84" y="88.1" width="3" height="7.9" fill="#26a69a"/>
<line x1="721.63" x2="721.63" y1="81.9" y2="92.8" stroke="#26a69a" stroke-width="1"/>
<rect x="720.13" y="84.4" width="3" height="3.4" fill="#26a69a"/>
<line x1="725.92" x2="725.92" y1="82.5" y2="106.9" stroke="#ef5350" stroke-width="1"/>
<rect x="724.42" y="84" width="3" height="20.8" fill="#ef5350"/>
<line x1="730.21" x2="730.21" y1="88.1" y2="106.5" stroke="#26a69a" stroke-width="1"/>
<rect x="728.71" y="90" width="3" height="14.8" fill="#26a69a"/>
<line x1="734.5" x2="734.5" y1="88.1" y2="98.5" stroke="#ef5350" stroke-width="1"/>
<rect x="733" y="89.4" width="3" height="6.9" fill="#ef5350"/>
<line x1="738.79" x2="738.79" y1="92.8" y2="103.1" stroke="#26a69a" stroke-width="1"/>
<rect x="737.29" y="93.5" width="3" height="2.8" fill="#26a69a"/>
<line x1="743.08" x2="743.08" y1="92.5" y2="111.5" stroke="#ef5350" stroke-width="1"/>
<rect x="741.58" y="93.5" width="3" height="14.6" fill="#ef5350"/>
<line x1="747.37" x2="747.37" y1="92.3" y2="113.8" stroke="#26a69a" stroke-width="1"/>
<rect x="745.87" y="98.1" width="3" height="10" fill="#26a69a"/>
<line x1="751.66" x2="751.66" y1="86" y2="104" stroke="#26a69a" stroke-width="1"/>
<rect x="750.16" y="89.4" width="3" height="8.4" fill="#26a69a"/>
<line x1="755.95" x2="755.95" y1="87.5" y2="101" stroke="#26a69a" stroke-width="1"/>
<rect x="754.45" y="89.5" width="3" height="0.8" fill="#26a69a"/>
<line x1="760.24" x2="760.24" y1="84.4" y2="94.4" stroke="#26a69a" stroke-width="1"/>
<rect x="758.74" y="87.5" width="3" height="1.9" fill="#26a69a"/>
<line x1="764.53" x2="764.53" y1="83.1" y2="96.3" stroke="#26a69a" stroke-width="1"/>
<rect x="763.03" y="86.2" width="3" height="0.8" fill="#26a69a"/>
<line x1="768.82" x2="768.82" y1="78.1" y2="103.8" stroke="#ef5350" stroke-width="1"/>
<rect x="767.32" y="86.3" width="3" height="7.5" fill="#ef5350"/>
<line x1="773.11" x2="773.11" y1="92.3" y2="143" stroke="#ef5350" stroke-width="1"/>
<rect x="771.61" y="94.4" width="3" height="5.9" fill="#ef5350"/>
<line x1="777.4" x2="777.4" y1="93.1" y2="109.4" stroke="#26a69a" stroke-width="1"/>
<rect x="775.9" y="97.5" width="3" height="2.5" fill="#26a69a"/>
<line x1="781.69" x2="781.69" y1="97.3" y2="107.5" stroke="#ef5350" stroke-width="1"/>
<rect x="780.19" y="97.8" width="3" height="7" fill="#ef5350"/>
<line x1="785.98" x2="785.98" y1="94.8" y2="106.3" stroke="#26a69a" stroke-width="1"/>
<rect x="784.48" y="95.3" width="3" height="9.5" fill="#26a69a"/>
<line x1="790.27" x2="790.27" y1="86.9" y2="96.5" stroke="#26a69a" stroke-width="1"/>
<rect x="788.77" y="87.8" width="3" height="7.5" fill="#26a69a"/>
<line x1="794.56" x2="794.56" y1="85" y2="89" stroke="#26a69a" stroke-width="1"/>
<rect x="793.06" y="86.3" width="3" height="1.5" fill="#26a69a"/>
<line x1="798.85" x2="798.85" y1="85" y2="87.8" stroke="#26a69a" stroke-width="1"/>
<rect x="797.35" y="85.3" width="3" height="2" fill="#26a69a"/>
<line x1="803.14" x2="803.14" y1="71.3" y2="85.6" stroke="#26a69a" stroke-width="1"/>
<rect x="801.64" y="76" width="3" height="9" fill="#26a69a"/>
<line x1="807.43" x2="807.43" y1="65" y2="76" stroke="#26a69a" stroke-width="1"/>
<rect x="805.93" y="72.3" width="3" height="3.3" fill="#26a69a"/>
<line x1="811.72" x2="811.72" y1="68.1" y2="74.4" stroke="#ef5350" stroke-width="1"/>
<rect x="810.22" y="72.3" width="3" height="1.5" fill="#ef5350"/>
<line x1="816.01" x2="816.01" y1="72.5" y2="93.8" stroke="#ef5350" stroke-width="1"/>
<rect x="814.51" y="74" width="3" height="12.3" fill="#ef5350"/>
<line x1="820.3" x2="820.3" y1="72.5" y2="88.8" stroke="#26a69a" stroke-width="1"/>
<rect x="818.8" y="79.4" width="3" height="6.9" fill="#26a69a"/>
<line x1="824.59" x2="824.59" y1="70" y2="83.5" stroke="#26a69a" stroke-width="1"/>
<rect x="823.09" y="75.3" width="3" height="3.7" fill="#26a69a"/>
<line x1="828.88" x2="828.88" y1="66.9" y2="75" stroke="#26a69a" stroke-width="1"/>
<rect x="827.38" y="67.3" width="3" height="7.5" fill="#26a69a"/>
<line x1="833.16" x2="833.16" y1="66" y2="72.3" stroke="#ef5350" stroke-width="1"/>
<rect x="831.66" y="66.9" width="3" height="1.2" fill="#ef5350"/>
<line x1="837.45" x2="837.45" y1="67.5" y2="74.4" stroke="#ef5350" stroke-width="1"/>
<rect x="835.95" y="68.1" width="3" height="2.5" fill="#ef5350"/>
<line x1="841.74" x2="841.74" y1="69.8" y2="78.8" stroke="#ef5350" stroke-width="1"/>
<rect x="840.24" y="70.6" width="3" height="2.5" fill="#ef5350"/>
<line x1="846.03" x2="846.03" y1="68.1" y2="73.8" stroke="#26a69a" stroke-width="1"/>
<rect x="844.53" y="68.8" width="3" height="4.3" fill="#26a69a"/>
<line x1="850.32" x2="850.32" y1="63.5" y2="76.9" stroke="#ef5350" stroke-width="1"/>
<rect x="848.82" y="69.1" width="3" height="1.5" fill="#ef5350"/>
<line x1="854.61" x2="854.61" y1="61.3" y2="71" stroke="#26a69a" stroke-width="1"/>
<rect x="853.11" y="69.4" width="3" height="1.2" fill="#26a69a"/>
<line x1="858.9" x2="858.9" y1="64.4" y2="68.8" stroke="#26a69a" stroke-width="1"/>
<rect x="857.4" y="67.5" width="3" height="1" fill="#26a69a"/>
<line x1="863.19" x2="863.19" y1="67.5" y2="76.9" stroke="#ef5350" stroke-width="1"/>
<rect x="861.69" y="67.8" width="3" height="6" fill="#ef5350"/>
<line x1="867.48" x2="867.48" y1="71.3" y2="94" stroke="#ef5350" stroke-width="1"/>
<rect x="865.98" y="73.1" width="3" height="15.4" fill="#ef5350"/>
<line x1="871.77" x2="871.77" y1="79.4" y2="97.5" stroke="#ef5350" stroke-width="1"/>
<rect x="870.27" y="88.8" width="3" height="5.2" fill="#ef5350"/>
<line x1="7" x2="940" y1="94.2" y2="94.2" stroke="#ef5350" stroke-width="1" stroke-dasharray="1 1.5" stroke-opacity="0.6"/>
</g>
<text x="12.9" y="32.5" font-size="8.5" fill="#50535e" font-weight="normal" text-anchor="start" textLength="128.9" lengthAdjust="spacingAndGlyphs">Bitcoin / U.S. Dollar, 2h, BINANCE</text>
<text x="147.7" y="32.5" font-size="8.5" fill="#50535e" font-weight="normal" text-anchor="start" textLength="5.5" lengthAdjust="spacingAndGlyphs">O</text>
<text x="154.2" y="32.5" font-size="8.5" fill="#ef5350" font-weight="normal" text-anchor="start" textLength="31.9" lengthAdjust="spacingAndGlyphs">71931.65</text>
<text x="191.8" y="32.5" font-size="8.5" fill="#50535e" font-weight="normal" text-anchor="start" textLength="5.5" lengthAdjust="spacingAndGlyphs">H</text>
<text x="197.9" y="32.5" font-size="8.5" fill="#ef5350" font-weight="normal" text-anchor="start" textLength="31.9" lengthAdjust="spacingAndGlyphs">72586.57</text>
<text x="236" y="32.5" font-size="8.5" fill="#50535e" font-weight="normal" text-anchor="start" textLength="4.2" lengthAdjust="spacingAndGlyphs">L</text>
<text x="240.5" y="32.5" font-size="8.5" fill="#ef5350" font-weight="normal" text-anchor="start" textLength="31.9" lengthAdjust="spacingAndGlyphs">71293.86</text>
<text x="277.9" y="32.5" font-size="8.5" fill="#50535e" font-weight="normal" text-anchor="start" textLength="4.9" lengthAdjust="spacingAndGlyphs">C</text>
<text x="283.1" y="32.5" font-size="8.5" fill="#ef5350" font-weight="normal" text-anchor="start" textLength="32" lengthAdjust="spacingAndGlyphs">71563.69</text>
<text x="321.8" y="32.5" font-size="8.5" fill="#ef5350" font-weight="normal" text-anchor="start" textLength="60.4" lengthAdjust="spacingAndGlyphs">−382.90 (−0.53%)</text>
<text x="12.9" y="44.3" font-size="8.5" fill="#50535e" font-weight="normal" text-anchor="start" textLength="73.7" lengthAdjust="spacingAndGlyphs">EMA 20/50/100/200</text>
<text x="92.8" y="44.3" font-size="8.5" fill="#ff1a1a" font-weight="bold" text-anchor="start" textLength="31.1" lengthAdjust="spacingAndGlyphs">72537.11</text>
<text x="131.05" y="44.3" font-size="8.5" fill="#ff9800" font-weight="bold" text-anchor="start" textLength="31.95" lengthAdjust="spacingAndGlyphs">71537.66</text>
<text x="168.8" y="44.3" font-size="8.5" fill="#00e5ff" font-weight="bold" text-anchor="start" textLength="32.3" lengthAdjust="spacingAndGlyphs">69612.63</text>
<text x="207" y="44.3" font-size="8.5" fill="#2020f0" font-weight="bold" text-anchor="start" textLength="32.2" lengthAdjust="spacingAndGlyphs">65829.69</text>
<text x="12.9" y="56.2" font-size="8.5" fill="#50535e" font-weight="normal" text-anchor="start" textLength="34.2" lengthAdjust="spacingAndGlyphs">Vol · BTC</text>
<text x="52.9" y="56.2" font-size="8.5" fill="#ef5350" font-weight="normal" text-anchor="start" textLength="8.3" lengthAdjust="spacingAndGlyphs">47</text>
<line x1="7" x2="1016.5" y1="368.6" y2="368.6" stroke="#e8e6f3" stroke-width="1"/>
<g clip-path="url(#rp)">
<line x1="7" x2="973.5" y1="383.6" y2="383.6" stroke="#eef2f7" stroke-width="1"/>
<line x1="7" x2="973.5" y1="424.1" y2="424.1" stroke="#eef2f7" stroke-width="1"/>
<line x1="82.5" x2="82.5" y1="369" y2="427.3" stroke="#eef2f7" stroke-width="1"/>
<line x1="185.25" x2="185.25" y1="369" y2="427.3" stroke="#eef2f7" stroke-width="1"/>
<line x1="262.5" x2="262.5" y1="369" y2="427.3" stroke="#eef2f7" stroke-width="1"/>
<line x1="339.5" x2="339.5" y1="369" y2="427.3" stroke="#eef2f7" stroke-width="1"/>
<line x1="442.5" x2="442.5" y1="369" y2="427.3" stroke="#eef2f7" stroke-width="1"/>
<line x1="545.25" x2="545.25" y1="369" y2="427.3" stroke="#eef2f7" stroke-width="1"/>
<line x1="622.75" x2="622.75" y1="369" y2="427.3" stroke="#eef2f7" stroke-width="1"/>
<line x1="695.25" x2="695.25" y1="369" y2="427.3" stroke="#eef2f7" stroke-width="1"/>
<line x1="798.5" x2="798.5" y1="369" y2="427.3" stroke="#eef2f7" stroke-width="1"/>
<line x1="901.5" x2="901.5" y1="369" y2="427.3" stroke="#eef2f7" stroke-width="1"/>
<rect x="7" y="387.4" width="966.5" height="32.8" fill="#7e57c2" fill-opacity="0.1"/>
<line x1="7" x2="973.5" y1="387.4" y2="387.4" stroke="#787b86" stroke-width="1" stroke-dasharray="3 3.209"/>
<line x1="7" x2="973.5" y1="403.7" y2="403.7" stroke="#787b86" stroke-opacity="0.3" stroke-width="1" stroke-dasharray="3 3.209"/>
<line x1="7" x2="973.5" y1="420.3" y2="420.3" stroke="#787b86" stroke-width="1" stroke-dasharray="3 3.209"/>
<clipPath id="obc"><rect x="7" y="360" width="966.5" height="27.4"/></clipPath>
<polygon points="7,387.4 7,376.75 10,377.5 17.5,375.25 22.5,375.9 27.5,375 33.75,374.25 40,374.25 43.75,373.4 47.5,377.75 58.75,382.75 61.25,385.25 63.75,384 67.5,386.5 70,387.1 75,386.25 78.75,386.5 82.5,381.5 86.25,377.5 90,380.25 95,375.9 100,375.25 103.75,375.5 107.5,381.5 112.5,383.4 117.5,381.25 120.6,388.4 125,387.1 128,386.5 133,386.25 138,384.25 145.5,383.4 149.25,385.25 151.75,387.75 154.9,399 159.25,395.9 163,397.1 168,400.25 172.4,398.4 176.75,399.6 180.5,398.75 184.25,398 189.25,394 193,395.25 198,392.75 202.4,400.5 208,397.1 214.25,395 219.25,395.9 223.6,398.4 228,396.75 231.75,399 238,399.6 243,400.9 249.25,401.75 256,401.75 261,399 267.25,400.25 271,399.25 276,401.75 281,400 284.75,400.9 288.5,404.6 293.5,403 297.25,401.75 301.6,395.9 306,398.75 311,394.6 318.5,392.1 326,387.5 331,388.4 335.4,389.25 343.5,378.4 348.5,379 352.9,380.9 357.25,376.25 364.75,374.25 369.75,374.25 377.25,371.75 381,374.6 384,381.5 386.5,390.25 390.9,397.1 399,394 404.6,389 412.75,403.4 417.1,422.5 421.5,407.75 425.25,406.25 430.25,408.4 434,407.1 437.75,399.25 442.1,398.4 446.5,400.5 450.9,397.75 455.25,400.25 460.25,400.25 464,398.4 469,400.25 475.25,401.75 481,402.5 486.5,403.4 490.25,403.4 494,401.25 500.25,399.6 505.25,399.25 512,397.1 517,395.9 522,397.75 528.25,400.5 537,399.25 541.4,401.25 545.75,398.75 549.5,399.25 554.5,395.25 559.5,395.5 563.25,396.75 567,393.4 571.4,390.25 575.75,396.25 580.75,396.25 584.5,398.4 588.9,395.5 599.5,395.5 609.5,395.25 614.5,396.5 618.9,398.4 623.25,398.4 627,396.5 631.4,397.1 635.75,390.9 640,389 643.75,387.75 648.75,387.5 652.5,384.6 656.25,387.5 661.25,392.1 665.6,394.6 670,393 673.75,392.5 678.75,398.4 683.1,399.6 687.5,409 691.9,405.25 695.6,405.5 700,387.1 704.4,384.25 708.75,386.5 713.1,386.25 717.5,384 721.25,383.4 725.6,396.5 730,391.75 735,395.25 738.75,394.25 743.1,401.25 747.5,397.75 751.25,394.6 758.75,394.25 763.75,393.4 768,398 772.4,401.5 776.75,400.5 781.75,403.75 786.1,399.6 790.5,396.5 798,395.9 803,392.1 807.4,390.5 811.75,392.1 816.1,399.6 820.5,396.75 825.5,394.6 829.25,392.1 833,392.75 838,394.6 841.75,395.9 846.75,394 850.5,395.5 855.5,394.6 859.25,394.25 863,398.4 866.75,405.9 871.75,410.25 871.75,387.4" fill="url(#ob)" clip-path="url(#obc)"/>
<polyline points="7,398 18.75,393.75 31.25,388.4 41.25,382.75 50,378.4 56.25,377.1 65,377.75 75,379.25 87.5,380 100,380.5 112.5,381.25 128,381.8 140.5,381.5 150.5,382.75 163,387.5 178,391.75 190.5,394 203,395.9 215.5,397.1 228,397.1 240.5,397.5 256,398.6 268.5,399.6 281,400.25 293.5,401.5 306,400.9 318.5,398.75 331,396.25 346.6,391.8 359,386.7 370.8,382 381,379.1 386.4,379.3 394.2,380 400,381.2 402.75,381.6 411.5,384.6 417.75,388.4 426.5,393.4 434,397.5 441.5,400.9 452.75,402.1 465.25,403.4 474,403 484,401.75 496.5,400.25 512,400.25 524.5,400.25 537,399.6 549.5,399 562,398.4 574.5,397.5 587,396.5 599.5,395.9 612,395.5 624.5,395.9 637,395.9 652.5,393.4 665,392.5 677.5,392.1 683.75,392.5 690,393.75 696.25,395 702.5,394.6 715,394.6 727.5,393.4 740,393.4 752.5,391.75 758.75,391.5 768,393 780.5,396.5 786.75,397.5 799.25,397.5 811.75,396.5 824.25,396.5 836.75,395.5 849.25,394.6 858,394 865.5,395 871.75,397.2" fill="none" stroke="#f5dc50" stroke-width="1.1"/>
<polyline points="7,376.75 10,377.5 17.5,375.25 22.5,375.9 27.5,375 33.75,374.25 40,374.25 43.75,373.4 47.5,377.75 58.75,382.75 61.25,385.25 63.75,384 67.5,386.5 70,387.1 75,386.25 78.75,386.5 82.5,381.5 86.25,377.5 90,380.25 95,375.9 100,375.25 103.75,375.5 107.5,381.5 112.5,383.4 117.5,381.25 120.6,388.4 125,387.1 128,386.5 133,386.25 138,384.25 145.5,383.4 149.25,385.25 151.75,387.75 154.9,399 159.25,395.9 163,397.1 168,400.25 172.4,398.4 176.75,399.6 180.5,398.75 184.25,398 189.25,394 193,395.25 198,392.75 202.4,400.5 208,397.1 214.25,395 219.25,395.9 223.6,398.4 228,396.75 231.75,399 238,399.6 243,400.9 249.25,401.75 256,401.75 261,399 267.25,400.25 271,399.25 276,401.75 281,400 284.75,400.9 288.5,404.6 293.5,403 297.25,401.75 301.6,395.9 306,398.75 311,394.6 318.5,392.1 326,387.5 331,388.4 335.4,389.25 343.5,378.4 348.5,379 352.9,380.9 357.25,376.25 364.75,374.25 369.75,374.25 377.25,371.75 381,374.6 384,381.5 386.5,390.25 390.9,397.1 399,394 404.6,389 412.75,403.4 417.1,422.5 421.5,407.75 425.25,406.25 430.25,408.4 434,407.1 437.75,399.25 442.1,398.4 446.5,400.5 450.9,397.75 455.25,400.25 460.25,400.25 464,398.4 469,400.25 475.25,401.75 481,402.5 486.5,403.4 490.25,403.4 494,401.25 500.25,399.6 505.25,399.25 512,397.1 517,395.9 522,397.75 528.25,400.5 537,399.25 541.4,401.25 545.75,398.75 549.5,399.25 554.5,395.25 559.5,395.5 563.25,396.75 567,393.4 571.4,390.25 575.75,396.25 580.75,396.25 584.5,398.4 588.9,395.5 599.5,395.5 609.5,395.25 614.5,396.5 618.9,398.4 623.25,398.4 627,396.5 631.4,397.1 635.75,390.9 640,389 643.75,387.75 648.75,387.5 652.5,384.6 656.25,387.5 661.25,392.1 665.6,394.6 670,393 673.75,392.5 678.75,398.4 683.1,399.6 687.5,409 691.9,405.25 695.6,405.5 700,387.1 704.4,384.25 708.75,386.5 713.1,386.25 717.5,384 721.25,383.4 725.6,396.5 730,391.75 735,395.25 738.75,394.25 743.1,401.25 747.5,397.75 751.25,394.6 758.75,394.25 763.75,393.4 768,398 772.4,401.5 776.75,400.5 781.75,403.75 786.1,399.6 790.5,396.5 798,395.9 803,392.1 807.4,390.5 811.75,392.1 816.1,399.6 820.5,396.75 825.5,394.6 829.25,392.1 833,392.75 838,394.6 841.75,395.9 846.75,394 850.5,395.5 855.5,394.6 859.25,394.25 863,398.4 866.75,405.9 871.75,410.25" fill="none" stroke="#7e57c2" stroke-width="1"/>
</g>
<text x="13.3" y="382.8" font-size="8.5" fill="#50535e" font-weight="normal" text-anchor="start" textLength="99.6" lengthAdjust="spacingAndGlyphs">RSI (14, close, SMA, 14, 2)</text>
<text x="117.6" y="382.8" font-size="8.5" fill="#7e57c2" font-weight="normal" text-anchor="start" textLength="20.4" lengthAdjust="spacingAndGlyphs">41.93</text>
<text x="144.25" y="382.8" font-size="8.5" fill="#f7dc45" font-weight="normal" text-anchor="start" textLength="19.35" lengthAdjust="spacingAndGlyphs">57.87</text>
<circle cx="173.6" cy="379.8" r="2.45" fill="none" stroke="#50535e" stroke-width="0.85"/>
<line x1="170.9" y1="382.9" x2="176.29999999999998" y2="376.7" stroke="#50535e" stroke-width="0.85"/>
<circle cx="187.4" cy="379.8" r="2.45" fill="none" stroke="#50535e" stroke-width="0.85"/>
<line x1="184.70000000000002" y1="382.9" x2="190.1" y2="376.7" stroke="#50535e" stroke-width="0.85"/>
<circle cx="201.1" cy="379.8" r="2.45" fill="none" stroke="#50535e" stroke-width="0.85"/>
<line x1="198.4" y1="382.9" x2="203.79999999999998" y2="376.7" stroke="#50535e" stroke-width="0.85"/>
<circle cx="214.9" cy="379.8" r="2.45" fill="none" stroke="#50535e" stroke-width="0.85"/>
<line x1="212.20000000000002" y1="382.9" x2="217.6" y2="376.7" stroke="#50535e" stroke-width="0.85"/>
<circle cx="228.6" cy="379.8" r="2.45" fill="none" stroke="#50535e" stroke-width="0.85"/>
<line x1="225.9" y1="382.9" x2="231.29999999999998" y2="376.7" stroke="#50535e" stroke-width="0.85"/>
<circle cx="242.4" cy="379.8" r="2.45" fill="none" stroke="#50535e" stroke-width="0.85"/>
<line x1="239.70000000000002" y1="382.9" x2="245.1" y2="376.7" stroke="#50535e" stroke-width="0.85"/>
<line x1="7" x2="973.5" y1="427.9" y2="427.9" stroke="#c9cbd1" stroke-width="1.4"/>
<line x1="973.5" x2="1016.5" y1="427.9" y2="427.9" stroke="#5d606b" stroke-width="1.2"/>
<text x="82.5" y="440.2" font-size="7.6" fill="#3d4049" font-weight="normal" text-anchor="middle">28</text>
<text x="185.25" y="440.2" font-size="7.6" fill="#3d4049" font-weight="bold" text-anchor="middle">Mar</text>
<text x="262.5" y="440.2" font-size="7.6" fill="#3d4049" font-weight="normal" text-anchor="middle">13:00</text>
<text x="339.5" y="440.2" font-size="7.6" fill="#3d4049" font-weight="normal" text-anchor="middle">4</text>
<text x="442.5" y="440.2" font-size="7.6" fill="#3d4049" font-weight="normal" text-anchor="middle">6</text>
<text x="545.25" y="440.2" font-size="7.6" fill="#3d4049" font-weight="normal" text-anchor="middle">8</text>
<text x="622.75" y="440.2" font-size="7.6" fill="#3d4049" font-weight="normal" text-anchor="middle">13:00</text>
<text x="695.25" y="440.2" font-size="7.6" fill="#3d4049" font-weight="normal" text-anchor="middle">11</text>
<text x="798.5" y="440.2" font-size="7.6" fill="#3d4049" font-weight="normal" text-anchor="middle">13</text>
<text x="901.5" y="440.2" font-size="7.6" fill="#3d4049" font-weight="normal" text-anchor="middle">15</text>
<line x1="973.5" x2="973.5" y1="18.8" y2="447.3" stroke="#7d808a" stroke-width="1.1"/>
<text x="978.4" y="61.67" font-size="8.4" fill="#474a54" font-weight="normal" text-anchor="start" textLength="32.2" lengthAdjust="spacingAndGlyphs">74000.00</text>
<text x="978.4" y="90.51" font-size="8.4" fill="#474a54" font-weight="normal" text-anchor="start" textLength="32.2" lengthAdjust="spacingAndGlyphs">72000.00</text>
<text x="978.4" y="120.17" font-size="8.4" fill="#474a54" font-weight="normal" text-anchor="start" textLength="32.2" lengthAdjust="spacingAndGlyphs">70000.00</text>
<text x="978.4" y="150.68" font-size="8.4" fill="#474a54" font-weight="normal" text-anchor="start" textLength="32.2" lengthAdjust="spacingAndGlyphs">68000.00</text>
<text x="978.4" y="182.1" font-size="8.4" fill="#474a54" font-weight="normal" text-anchor="start" textLength="32.2" lengthAdjust="spacingAndGlyphs">66000.00</text>
<text x="978.4" y="214.49" font-size="8.4" fill="#474a54" font-weight="normal" text-anchor="start" textLength="32.2" lengthAdjust="spacingAndGlyphs">64000.00</text>
<text x="978.4" y="239.46" font-size="8.4" fill="#474a54" font-weight="normal" text-anchor="start" textLength="32.2" lengthAdjust="spacingAndGlyphs">62500.00</text>
<text x="978.4" y="265.03" font-size="8.4" fill="#474a54" font-weight="normal" text-anchor="start" textLength="32.2" lengthAdjust="spacingAndGlyphs">61000.00</text>
<text x="978.4" y="285.94" font-size="8.4" fill="#474a54" font-weight="normal" text-anchor="start" textLength="32.2" lengthAdjust="spacingAndGlyphs">59800.00</text>
<text x="978.4" y="307.28" font-size="8.4" fill="#474a54" font-weight="normal" text-anchor="start" textLength="32.2" lengthAdjust="spacingAndGlyphs">58600.00</text>
<text x="978.4" y="329.06" font-size="8.4" fill="#474a54" font-weight="normal" text-anchor="start" textLength="32.2" lengthAdjust="spacingAndGlyphs">57400.00</text>
<text x="978.4" y="351.3" font-size="8.4" fill="#474a54" font-weight="normal" text-anchor="start" textLength="32.2" lengthAdjust="spacingAndGlyphs">56200.00</text>
<text x="978.4" y="386.4" font-size="8.4" fill="#474a54" font-weight="normal" text-anchor="start" textLength="20.5" lengthAdjust="spacingAndGlyphs">75.00</text>
<text x="978.4" y="406.5" font-size="8.4" fill="#474a54" font-weight="normal" text-anchor="start" textLength="20.5" lengthAdjust="spacingAndGlyphs">50.00</text>
<text x="978.4" y="427.3" font-size="8.4" fill="#474a54" font-weight="normal" text-anchor="start" textLength="20.5" lengthAdjust="spacingAndGlyphs">25.00</text>
<rect x="975.9" y="21.2" width="37.7" height="18.5" rx="2.5" fill="#fff" stroke="#eef0f4" stroke-width="0.8"/>
<text x="982.9" y="33.5" font-size="7.6" fill="#2a2e39" font-weight="bold" text-anchor="start" textLength="12.6" lengthAdjust="spacingAndGlyphs">USD</text>
<path d="M942 88.3 H972.4 V99.5 H942 Q940.1 99.5 940.1 97.6 V90.2 Q940.1 88.3 942 88.3 Z" fill="#ef5350"/>
<text x="942.8" y="96.7" font-size="7.6" fill="#fff" font-weight="normal" text-anchor="start" textLength="26.2" lengthAdjust="spacingAndGlyphs">BTCUSD</text>
<path d="M973.1 88.1 H1011.9 Q1013.9 88.1 1013.9 90.1 V106 Q1013.9 108 1011.9 108 H973.1 Z" fill="#ef5350"/>
<text x="978.6" y="96.7" font-size="8.2" fill="#fff" font-weight="normal" text-anchor="start" textLength="32.1" lengthAdjust="spacingAndGlyphs">71563.69</text>
<text x="978.6" y="105.7" font-size="8.2" fill="#fff" font-weight="normal" text-anchor="start" textLength="19.3" lengthAdjust="spacingAndGlyphs">38:23</text>
<g fill="#131722"><path d="M7.1 455.9 H12.6 V462.7 H9.8 V458.7 H7.1 Z"/><circle cx="14.8" cy="457.5" r="1.0"/><path d="M17.2 455.9 H20.6 L18 462.7 H15 Z"/></g>
<text x="23.4" y="463" font-size="8.7" fill="#131722" font-weight="normal" text-anchor="start" textLength="49.6" lengthAdjust="spacingAndGlyphs">TradingView</text>
</svg></body></html>
